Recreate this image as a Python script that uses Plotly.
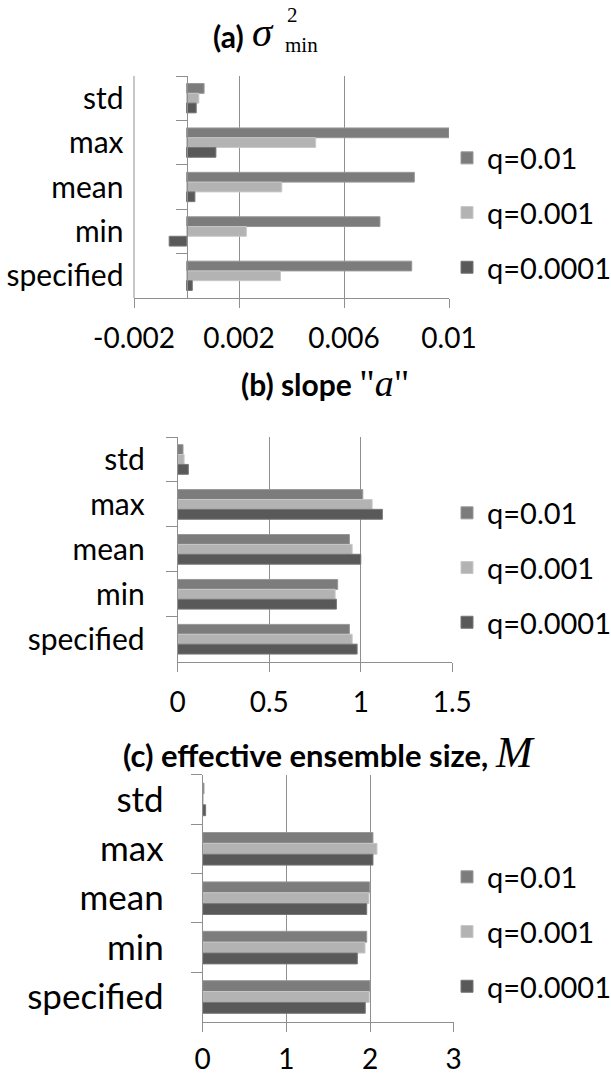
import plotly.graph_objects as go

# ---------------- data ----------------
categories = ["std", "max", "mean", "min", "specified"]
series_names = ["q=0.01", "q=0.001", "q=0.0001"]

# (a) sigma^2_min
a_q01 = [0.00067, 0.0100, 0.00868, 0.00737, 0.00858]
a_q001 = [0.00047, 0.00492, 0.00363, 0.00228, 0.00358]
a_q0001 = [0.00037, 0.00112, 0.00032, -0.00066, 0.00022]
a_ticks = [-0.002, 0.002, 0.006, 0.01]
a_ticktext = ["-0.002", "0.002", "0.006", "0.01"]

# (b) slope a
b_q01 = [0.029, 1.011, 0.938, 0.874, 0.938]
b_q001 = [0.035, 1.062, 0.953, 0.860, 0.953]
b_q0001 = [0.058, 1.118, 1.000, 0.867, 0.980]
b_ticks = [0, 0.5, 1, 1.5]
b_ticktext = ["0", "0.5", "1", "1.5"]

# (c) effective ensemble size M
c_q01 = [0.015, 2.035, 1.995, 1.960, 2.000]
c_q001 = [0.008, 2.083, 1.987, 1.940, 1.990]
c_q0001 = [0.035, 2.035, 1.960, 1.848, 1.943]
c_ticks = [0, 1, 2, 3]
c_ticktext = ["0", "1", "2", "3"]

# ---------------- style ----------------
W, H = 611, 1076
colors = ["#7c7c7c", "#b3b3b3", "#595959"]
edge = ["#989898", "#c8c8c8", "#767676"]
gray = "#8f8f8f"
FONT = "Lato"
SERIF = "Liberation Serif"


def fx(px):
    return px / W


def fy(px):
    return 1 - px / H


panels = [
    dict(vals=[a_q01, a_q001, a_q0001], xd=(134, 449), yd=(76, 298),
         rng=[-0.002, 0.01], tv=a_ticks, tt=a_ticktext, leg=213, so=57, cf=30, xso=6),
    dict(vals=[b_q01, b_q001, b_q0001], xd=(177.7, 452.3), yd=(437, 661.7),
         rng=[0, 1.5], tv=b_ticks, tt=b_ticktext, leg=568, so=26, cf=30, xso=7),
    dict(vals=[c_q01, c_q001, c_q0001], xd=(202.7, 453.7), yd=(774.7, 1021.7),
         rng=[0, 3], tv=c_ticks, tt=c_ticktext, leg=932, so=31, cf=35, xso=4),
]

fig = go.Figure()
layout = dict(
    width=W, height=H, margin=dict(l=0, r=0, t=0, b=0, autoexpand=False),
    paper_bgcolor="white", plot_bgcolor="white",
    barmode="group", bargap=0.34, bargroupgap=0,
    font=dict(family=FONT, color="black"),
    hovermode=False,
)
shapes = []

for i, p in enumerate(panels):
    n = "" if i == 0 else str(i + 1)
    xa, ya = "x" + n, "y" + n
    legname = "legend" + n
    for j in range(3):
        fig.add_trace(go.Bar(
            y=categories, x=p["vals"][j], orientation="h",
            name=series_names[j], xaxis=xa, yaxis=ya,
            marker=dict(color=colors[j], line=dict(color=edge[j], width=1)),
            legend=legname, legendgroup=f"g{i}{j}",
        ))
    x0, x1 = fx(p["xd"][0]), fx(p["xd"][1])
    rmin, rmax = p["rng"]
    zero_pos = x0 + (0 - rmin) / (rmax - rmin) * (x1 - x0)
    layout["xaxis" + n] = dict(
        domain=[x0, x1], range=p["rng"], anchor=ya,
        tickvals=p["tv"], ticktext=p["tt"],
        ticks="outside", ticklen=9, tickcolor=gray,
        showline=True, linecolor=gray, linewidth=1,
        showgrid=True, gridcolor=gray, gridwidth=1,
        zeroline=False, tickfont=dict(size=28, family=FONT),
        ticklabelstandoff=p["xso"], fixedrange=True, automargin=False,
    )
    ydict = dict(
        domain=[fy(p["yd"][1]), fy(p["yd"][0])],
        type="category", categoryorder="array", categoryarray=categories,
        autorange="reversed", tickson="boundaries",
        ticks="outside", ticklen=11, tickcolor=gray,
        showline=True, linecolor=gray, linewidth=1, showgrid=False,
        tickfont=dict(size=p["cf"], family=FONT), ticklabelstandoff=p["so"],
        fixedrange=True, automargin=False,
    )
    if rmin < 0:
        ydict.update(anchor="free", position=zero_pos)
        # left frame edge of the plot area (gridline at the lowest tick)
        shapes.append(dict(type="line", xref=xa + " domain", yref=ya + " domain",
                           x0=0, x1=0, y0=0, y1=1,
                           line=dict(color=gray, width=1), layer="below"))
    else:
        ydict.update(anchor=xa)
    layout["yaxis" + n] = ydict
    layout[legname] = dict(
        x=fx(447), xanchor="left", y=fy(p["leg"]), yanchor="middle",
        font=dict(size=29, family=FONT), tracegroupgap=14,
        traceorder="grouped", bgcolor="rgba(0,0,0,0)",
    )

ann = []
# (a) title
ann.append(dict(text="<b>(a)</b>", x=fx(211), y=fy(36), xanchor="left", yanchor="middle",
                font=dict(size=30, family=FONT)))
ann.append(dict(text="<i>σ</i>", x=fx(250), y=fy(32), xanchor="left", yanchor="middle",
                font=dict(size=41, family=SERIF)))
ann.append(dict(text="2", x=fx(285), y=fy(15), xanchor="left", yanchor="middle",
                font=dict(size=21, family=SERIF)))
ann.append(dict(text="min", x=fx(283), y=fy(45), xanchor="left", yanchor="middle",
                font=dict(size=21, family=SERIF)))
# (b) title
ann.append(dict(text="<b>(b) slope </b><span style='font-family:Liberation Serif;font-size:38px'>\"<i>a</i>\"</span>",
                x=fx(239), y=fy(383), xanchor="left", yanchor="middle",
                font=dict(size=30, family=FONT)))
# (c) title
ann.append(dict(text="<b>(c) effective ensemble size, </b><span style='font-family:Liberation Serif;font-size:44px'><i>M</i></span>",
                x=fx(121), y=fy(752), xanchor="left", yanchor="middle",
                font=dict(size=31, family=FONT)))
for a in ann:
    a.update(xref="paper", yref="paper", showarrow=False)
layout["annotations"] = ann
layout["shapes"] = shapes

fig.update_layout(**layout)
fig.write_html("out.html")
